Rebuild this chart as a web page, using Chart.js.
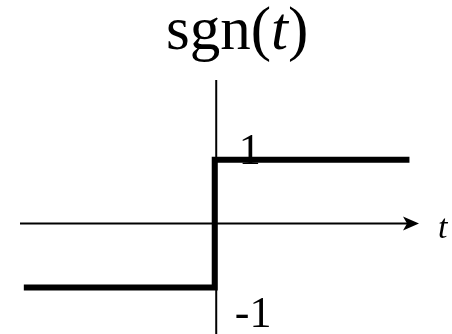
<!DOCTYPE html>
<html>
<head>
<meta charset="utf-8">
<script src="https://cdn.jsdelivr.net/npm/chart.js@4/dist/chart.umd.min.js"></script>
<style>
  html, body { margin: 0; padding: 0; background: #fff; }
  canvas { display: block; }
</style>
</head>
<body>
<canvas id="sgnChart" width="452" height="334"></canvas>
<script>
// sgn(t): step from -1 to 1 at t = 0
const stepT = [-1, 0, 1.02];
const stepValues = [-1, 1, 1];
const tickValues = [1, -1];
const tickLabels = ['1', '-1'];
const axisName = 't';

const serif = '"Liberation Serif", "Times New Roman", serif';

const axesPlugin = {
    id: 'axes',
    beforeDatasetsDraw(chart) {
        const ctx = chart.ctx;
        const xs = chart.scales.x;
        const ys = chart.scales.y;
        const area = chart.chartArea;
        const x0 = xs.getPixelForValue(0);
        const y0 = ys.getPixelForValue(0);
        ctx.save();
        ctx.strokeStyle = '#000';
        ctx.fillStyle = '#000';
        ctx.lineWidth = 2;
        // vertical axis
        ctx.beginPath();
        ctx.moveTo(x0 + 1.5, area.top);
        ctx.lineTo(x0 + 1.5, area.bottom);
        ctx.stroke();
        // horizontal axis with arrow
        ctx.beginPath();
        ctx.moveTo(area.left, y0);
        ctx.lineTo(area.right - 8, y0);
        ctx.stroke();
        ctx.beginPath();
        ctx.moveTo(area.right, y0);
        ctx.lineTo(area.right - 16, y0 - 7);
        ctx.lineTo(area.right - 12, y0);
        ctx.lineTo(area.right - 16, y0 + 7);
        ctx.closePath();
        ctx.fill();
        ctx.restore();
    },
    afterDatasetsDraw(chart) {
        const ctx = chart.ctx;
        const xs = chart.scales.x;
        const ys = chart.scales.y;
        const x0 = xs.getPixelForValue(0);
        const y0 = ys.getPixelForValue(0);
        ctx.save();
        ctx.fillStyle = '#000';
        ctx.textBaseline = 'alphabetic';
        ctx.textAlign = 'left';
        ctx.font = '44px ' + serif;
        tickValues.forEach((v, i) => {
            const y = ys.getPixelForValue(v);
            const dx = v > 0 ? 24 : 20;
            const dy = v > 0 ? 4 : 40;
            ctx.fillText(tickLabels[i], x0 + dx, y + dy);
        });
        ctx.font = 'italic 34px ' + serif;
        ctx.fillText(axisName, chart.chartArea.right + 19, y0 + 14);

        // title: sgn(t) with italic t
        const parts = [
            ['sgn(', ''],
            ['t', 'italic '],
            [')', '']
        ];
        let x = 166;
        parts.forEach(([txt, style]) => {
            ctx.font = style + '61px ' + serif;
            ctx.fillText(txt, x, 49);
            x += ctx.measureText(txt).width;
        });
        ctx.restore();
    }
};

const ctx = document.getElementById('sgnChart').getContext('2d');
const sgnChart = new Chart(ctx, {
    type: 'line',
    data: {
        datasets: [{
            label: 'sgn(t)',
            data: stepT.map((t, i) => ({ x: t, y: stepValues[i] })),
            borderColor: '#000',
            borderWidth: 6,
            stepped: true,
            pointRadius: 0,
            fill: false,
            clip: false,
            borderJoinStyle: 'miter',
            borderCapStyle: 'butt'
        }]
    },
    options: {
        responsive: false,
        devicePixelRatio: 1,
        animation: false,
        layout: {
            padding: { left: 20, right: 33, top: 80, bottom: 0 }
        },
        scales: {
            x: { type: 'linear', min: -1.02, max: 1.07, display: false },
            y: { type: 'linear', min: -1.73, max: 2.25, display: false }
        },
        plugins: {
            legend: { display: false },
            tooltip: { enabled: false },
            title: { display: false }
        }
    },
    plugins: [axesPlugin]
});
</script>
</body>
</html>
